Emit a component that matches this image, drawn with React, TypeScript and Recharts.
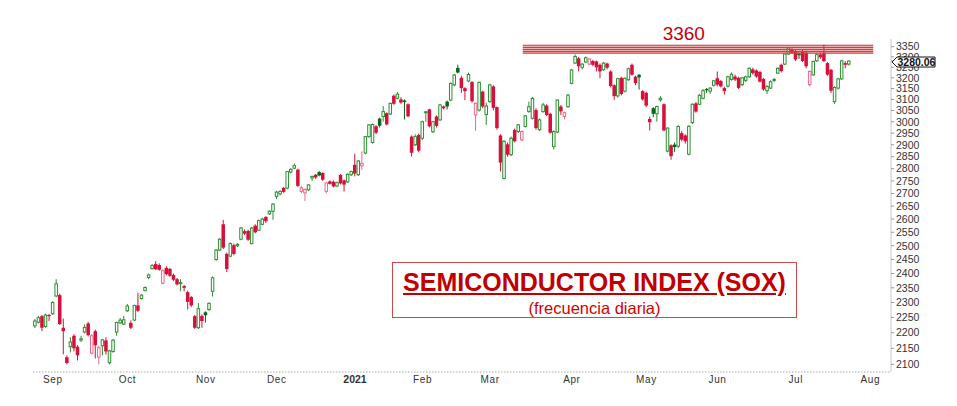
import React from 'react';
import { ComposedChart, Bar, XAxis, YAxis, ReferenceArea, ReferenceLine, ReferenceDot } from 'recharts';

// Daily OHLC of the SOX index, 25 Aug 2020 .. 23 Jul 2021 (trading-day index 0..229)
const opens = [
  2222, 2234, 2254, 2220, 2258, 2262, 2322, 2325, 2216, 2122,
  2155, 2190, 2155, 2176, 2202, 2230, 2135, 2205, 2122, 2158,
  2175, 2105, 2140, 2202, 2232, 2228, 2272, 2232, 2241, 2290,
  2313, 2340, 2386, 2417, 2434, 2430, 2366, 2420, 2416, 2395,
  2380, 2364, 2356, 2335, 2318, 2254, 2216, 2255, 2267, 2276,
  2338, 2450, 2484, 2580, 2470, 2462, 2502, 2500, 2524, 2554,
  2555, 2508, 2575, 2558, 2580, 2608, 2620, 2630, 2688, 2698,
  2722, 2721, 2786, 2802, 2796, 2708, 2702, 2714, 2762, 2775,
  2786, 2782, 2708, 2748, 2747, 2729, 2774, 2752, 2746, 2775,
  2816, 2775, 2812, 2865, 2935, 2910, 2980, 3014, 3023, 3038,
  3034, 3117, 3105, 3100, 3095, 3078, 2935, 2900, 2942, 2928,
  3040, 3055, 2956, 3023, 3008, 3068, 3090, 3097, 3167, 3247,
  3200, 3152, 3185, 3180, 3030, 3052, 3136, 3032, 3090, 3160,
  3065, 2940, 2760, 2902, 2858, 2964, 2957, 2921, 2979, 3045,
  3015, 3052, 2965, 3045, 3072, 3035, 2893, 2955, 3068, 3023,
  3067, 3174, 3270, 3293, 3250, 3275, 3265, 3280, 3278, 3262,
  3238, 3268, 3230, 3165, 3116, 3200, 3138, 3191, 3262, 3205,
  3214, 3138, 3130, 3012, 3060, 3035, 3098, 3078, 2873, 2898,
  2901, 2894, 2950, 2940, 2860, 2996, 3082, 3078, 3105, 3148,
  3138, 3165, 3198, 3185, 3152, 3161, 3192, 3206, 3200, 3168,
  3188, 3205, 3240, 3235, 3228, 3195, 3140, 3152, 3188, 3222,
  3262, 3265, 3314, 3336, 3327, 3316, 3327, 3320, 3168, 3214,
  3281, 3312, 3320, 3270, 3238, 3090, 3152, 3195, 3270, 3265,
];
const highs = [
  2245, 2255, 2258, 2262, 2262, 2304, 2380, 2330, 2246, 2128,
  2185, 2195, 2160, 2190, 2227, 2235, 2195, 2210, 2158, 2180,
  2185, 2145, 2180, 2236, 2248, 2255, 2295, 2240, 2292, 2333,
  2328, 2355, 2400, 2433, 2444, 2436, 2415, 2426, 2420, 2400,
  2384, 2380, 2360, 2340, 2322, 2258, 2298, 2260, 2270, 2300,
  2390, 2488, 2528, 2597, 2475, 2512, 2508, 2510, 2570, 2560,
  2560, 2570, 2580, 2598, 2605, 2612, 2634, 2662, 2710, 2712,
  2726, 2790, 2802, 2821, 2800, 2730, 2720, 2736, 2772, 2778,
  2790, 2785, 2745, 2752, 2752, 2747, 2778, 2756, 2780, 2792,
  2862, 2836, 2872, 2938, 2990, 2992, 2985, 3018, 3070, 3042,
  3086, 3122, 3134, 3110, 3100, 3082, 2940, 2945, 2948, 3005,
  3048, 3058, 3004, 3028, 3080, 3072, 3095, 3178, 3218, 3262,
  3210, 3156, 3225, 3185, 3086, 3182, 3140, 3085, 3172, 3165,
  3068, 2945, 2920, 2910, 2935, 2970, 2990, 2962, 3030, 3090,
  3112, 3060, 3015, 3085, 3078, 3040, 2962, 3100, 3075, 3045,
  3125, 3242, 3312, 3300, 3270, 3302, 3295, 3285, 3282, 3268,
  3275, 3272, 3236, 3170, 3200, 3205, 3202, 3248, 3268, 3210,
  3218, 3142, 3135, 3022, 3065, 3072, 3115, 3082, 2975, 2902,
  2910, 2985, 2960, 2945, 2985, 3082, 3088, 3124, 3148, 3152,
  3156, 3190, 3230, 3190, 3158, 3210, 3225, 3215, 3205, 3205,
  3210, 3250, 3248, 3240, 3232, 3200, 3165, 3188, 3200, 3250,
  3268, 3318, 3350, 3342, 3335, 3322, 3335, 3330, 3235, 3282,
  3316, 3320, 3360, 3275, 3242, 3160, 3200, 3286, 3280, 3284,
];
const lows = [
  2215, 2230, 2205, 2216, 2238, 2258, 2318, 2225, 2131, 2100,
  2137, 2140, 2112, 2170, 2198, 2188, 2131, 2118, 2100, 2128,
  2130, 2100, 2136, 2190, 2228, 2225, 2268, 2212, 2238, 2268,
  2310, 2338, 2380, 2414, 2412, 2410, 2362, 2394, 2388, 2374,
  2358, 2338, 2338, 2276, 2285, 2212, 2212, 2216, 2233, 2272,
  2320, 2445, 2480, 2488, 2405, 2458, 2465, 2495, 2520, 2540,
  2518, 2505, 2546, 2555, 2576, 2585, 2616, 2597, 2677, 2692,
  2702, 2716, 2780, 2798, 2725, 2700, 2670, 2710, 2750, 2758,
  2768, 2750, 2700, 2735, 2724, 2725, 2736, 2707, 2742, 2770,
  2768, 2770, 2795, 2860, 2930, 2905, 2945, 2975, 3000, 2984,
  3030, 3076, 3100, 3080, 3010, 3020, 2850, 2895, 2868, 2920,
  3000, 2975, 2950, 2975, 3004, 3055, 3055, 3092, 3160, 3220,
  3130, 3097, 3180, 3085, 2960, 3045, 3060, 2986, 3085, 3050,
  2965, 2788, 2755, 2850, 2852, 2910, 2950, 2915, 2975, 3040,
  3010, 2965, 2960, 3040, 3025, 2948, 2880, 2950, 3030, 3010,
  3062, 3170, 3265, 3230, 3240, 3270, 3260, 3255, 3230, 3198,
  3233, 3240, 3155, 3098, 3108, 3118, 3132, 3186, 3210, 3165,
  3145, 3095, 3065, 2962, 3020, 3000, 3090, 2958, 2868, 2837,
  2870, 2885, 2915, 2905, 2855, 2990, 3040, 3074, 3100, 3130,
  3125, 3160, 3160, 3155, 3122, 3155, 3186, 3185, 3148, 3160,
  3180, 3200, 3215, 3200, 3178, 3140, 3125, 3148, 3180, 3218,
  3225, 3260, 3310, 3315, 3280, 3290, 3275, 3245, 3160, 3210,
  3276, 3290, 3275, 3210, 3130, 3080, 3145, 3190, 3245, 3258,
];
const closes = [
  2238, 2249, 2216, 2258, 2254, 2300, 2364, 2228, 2205, 2104,
  2170, 2150, 2128, 2180, 2217, 2192, 2190, 2160, 2152, 2177,
  2140, 2142, 2176, 2233, 2241, 2242, 2288, 2216, 2290, 2272,
  2325, 2351, 2395, 2428, 2415, 2413, 2410, 2398, 2392, 2378,
  2362, 2368, 2350, 2302, 2290, 2216, 2279, 2238, 2257, 2297,
  2385, 2484, 2524, 2493, 2416, 2508, 2470, 2505, 2566, 2545,
  2522, 2566, 2550, 2594, 2600, 2592, 2630, 2658, 2705, 2708,
  2706, 2788, 2797, 2812, 2730, 2722, 2716, 2734, 2768, 2764,
  2772, 2755, 2742, 2738, 2728, 2743, 2740, 2735, 2777, 2788,
  2780, 2832, 2822, 2935, 2986, 2988, 2952, 2982, 3045, 2988,
  3082, 3080, 3124, 3086, 3088, 3024, 2866, 2935, 2875, 3000,
  3044, 2980, 3000, 2982, 3075, 3060, 3068, 3174, 3213, 3225,
  3152, 3138, 3216, 3092, 3082, 3179, 3068, 3070, 3167, 3062,
  2972, 2825, 2915, 2858, 2928, 2915, 2986, 2957, 3026, 3067,
  3105, 2972, 3008, 3075, 3030, 2952, 2957, 3097, 3046, 3040,
  3120, 3237, 3302, 3255, 3265, 3296, 3290, 3262, 3250, 3230,
  3270, 3248, 3162, 3115, 3196, 3125, 3198, 3243, 3215, 3175,
  3202, 3100, 3072, 2998, 3035, 3068, 3105, 2962, 2972, 2852,
  2890, 2979, 2922, 2915, 2980, 3078, 3045, 3119, 3140, 3142,
  3152, 3186, 3168, 3160, 3138, 3205, 3217, 3192, 3153, 3200,
  3205, 3245, 3222, 3206, 3182, 3146, 3160, 3182, 3192, 3245,
  3232, 3314, 3344, 3320, 3287, 3308, 3280, 3255, 3230, 3278,
  3311, 3298, 3280, 3215, 3140, 3155, 3195, 3281, 3262, 3280.06,
];

const monthTickIndex = [5, 26, 48, 68, 90, 109, 128, 151, 172, 192, 214, 235];
const monthTickLabels = ['Sep', 'Oct', 'Nov', 'Dec', '2021', 'Feb', 'Mar', 'Apr', 'May', 'Jun', 'Jul', 'Aug'];
const priceTicks = [
  2100, 2150, 2200, 2250, 2300, 2350, 2400, 2450, 2500, 2550, 2600, 2650, 2700,
  2750, 2800, 2850, 2900, 2950, 3000, 3050, 3100, 3150, 3200, 3250, 3300, 3350,
];
const resistanceLevels = [3357, 3347, 3337, 3327, 3318];
const resistanceFromIndex = 137.2;
const resistanceToIndex = 235.8;
const resistanceLabel = '3360';
const resistanceLabelIndex = 182.5;
const lastClose = 3280.06;

const PRICE_DOMAIN = [2076.4, 3388];
const GREEN = '#2c8f31';
const DARK_GREEN = '#0b6716';
const RED = '#d60f3b';
const PINK = '#ea6887';
const FONT = '"Liberation Sans", Arial, sans-serif';

const data = opens.map((o, i) => ({
  i,
  o,
  h: highs[i],
  l: lows[i],
  c: closes[i],
  pc: i > 0 ? closes[i - 1] : o,
  range: [lows[i], highs[i]],
}));

const Candle = (props: any) => {
  const { x, y, width, height, payload } = props;
  if (!payload || y == null || height == null) return null;
  const top = Math.min(y, y + height);
  const bot = Math.max(y, y + height);
  const { o, h, l, c, pc } = payload;
  const lh = Math.log(h);
  const ll = Math.log(l);
  const py = (v: number) => (lh === ll ? top : top + ((lh - Math.log(v)) / (lh - ll)) * (bot - top));
  const cx = x + width / 2;
  const up = c >= o;
  const gain = c >= pc;
  const color = gain ? (up ? GREEN : DARK_GREEN) : up ? PINK : RED;
  const yo = py(o);
  const yc = py(c);
  const bt = Math.min(yo, yc);
  const bb = Math.max(yo, yc);
  const bw = 3.5;
  return (
    <g>
      <line x1={cx} x2={cx} y1={top} y2={bot} stroke={color} strokeWidth={1} />
      {up ? (
        <rect x={cx - bw / 2 + 0.5} y={bt} width={bw - 1} height={Math.max(bb - bt, 0.6)} fill="#fff" stroke={color} strokeWidth={1} />
      ) : (
        <rect x={cx - bw / 2} y={bt} width={bw} height={Math.max(bb - bt, 1.2)} fill={color} />
      )}
    </g>
  );
};

// Price-axis tick: regular labels, plus the last-close tag (drawn last, on top)
const YTick = (props: any) => {
  const { x, y, payload } = props;
  if (payload.value === lastClose) {
    const px = x - 4;
    const py = y + 1;
    return (
      <g>
        <polygon
          points={`${px},${py} ${px + 5},${py - 5} ${px + 43},${py - 5} ${px + 43},${py + 5} ${px + 5},${py + 5}`}
          fill="#fff"
          stroke="#111"
          strokeWidth={1}
        />
        <text x={px + 5.5} y={py + 3.8} fontSize={10.5} fontWeight="bold" fill="#111" fontFamily={FONT}>
          {lastClose.toFixed(2)}
        </text>
      </g>
    );
  }
  return (
    <text x={x} y={y} dy={3.8} textAnchor="start" fontSize={10.5} fill="#333" fontFamily={FONT}>
      {payload.value}
    </text>
  );
};

const XTick = (props: any) => {
  const { x, y, payload } = props;
  const idx = monthTickIndex.indexOf(payload.value);
  const label = idx >= 0 ? monthTickLabels[idx] : '';
  const bold = label === '2021';
  return (
    <text x={x} y={y + 11} textAnchor="middle" fontSize={bold ? 10.5 : 10} fontWeight={bold ? 'bold' : 'normal'} letterSpacing={bold ? 0 : 0.6} fill="#333" fontFamily={FONT}>
      {label}
    </text>
  );
};

const LevelLabel = (props: any) => {
  const { cx, cy } = props;
  if (cx == null || cy == null) return null;
  return (
    <text x={cx} y={cy - 5} textAnchor="middle" fontSize={19} fill="#c4000c" fontFamily={FONT}>
      {resistanceLabel}
    </text>
  );
};

export default function App() {
  return (
    <div style={{ position: 'absolute', left: 0, top: 0, width: 957, height: 406, background: '#fff', fontFamily: FONT }}>
      <ComposedChart width={957} height={406} data={data} margin={{ top: 39, right: 0, bottom: 0, left: 33 }}>
        <XAxis
          dataKey="i"
          type="number"
          domain={[-0.6, 240.8]}
          allowDataOverflow
          ticks={monthTickIndex}
          tick={<XTick />}
          tickLine={false}
          tickSize={0}
          tickMargin={0}
          height={34}
          axisLine={{ stroke: '#aaa', strokeDasharray: '1.5 1.5' }}
          interval={0}
        />
        <YAxis
          orientation="right"
          scale="log"
          domain={PRICE_DOMAIN}
          allowDataOverflow
          ticks={[...priceTicks, lastClose]}
          tick={<YTick />}
          tickSize={3}
          tickMargin={2}
          tickLine={{ stroke: '#999' }}
          axisLine={{ stroke: '#c8c8c8' }}
          width={66}
          interval={0}
        />
        <ReferenceArea
          x1={resistanceFromIndex}
          x2={resistanceToIndex}
          y1={resistanceLevels[resistanceLevels.length - 1]}
          y2={resistanceLevels[0]}
          fill="#f7cfd0"
          fillOpacity={0.8}
          stroke="none"
        />
        {resistanceLevels.map((lv, k) => (
          <ReferenceLine
            key={lv}
            segment={[{ x: resistanceFromIndex, y: lv }, { x: resistanceToIndex, y: lv }]}
            stroke={k === 0 ? '#b53a3a' : '#dc3a3a'}
            strokeWidth={1.2}
          />
        ))}
        <Bar dataKey="range" barSize={3} shape={<Candle />} isAnimationActive={false} />
        <ReferenceDot x={resistanceLabelIndex} y={resistanceLevels[0]} r={0} ifOverflow="visible" shape={<LevelLabel />} />
      </ComposedChart>
      <div
        style={{
          position: 'absolute',
          left: 392,
          top: 262,
          width: 405,
          height: 56,
          border: '1px solid #cf4a4a',
          boxSizing: 'border-box',
        }}
      />
      <div
        style={{
          position: 'absolute',
          left: 392,
          top: 269,
          width: 405,
          textAlign: 'center',
          fontSize: 25,
          lineHeight: '27px',
          fontWeight: 'bold',
          color: '#c00000',
          textDecoration: 'underline',
          whiteSpace: 'nowrap',
        }}
      >
        SEMICONDUCTOR INDEX (SOX)
      </div>
      <div
        style={{
          position: 'absolute',
          left: 392,
          top: 299,
          width: 405,
          textAlign: 'center',
          fontSize: 16.5,
          lineHeight: '18px',
          color: '#d40000',
          whiteSpace: 'nowrap',
        }}
      >
        (frecuencia diaria)
      </div>
    </div>
  );
}
